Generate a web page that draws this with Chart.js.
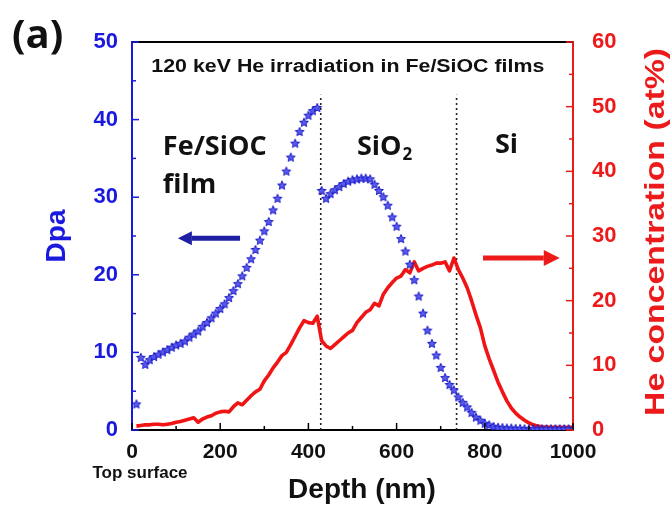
<!DOCTYPE html>
<html>
<head>
<meta charset="utf-8">
<title>120 keV He irradiation in Fe/SiOC films</title>
<script src="https://cdn.jsdelivr.net/npm/chart.js@4/dist/chart.umd.min.js"></script>
<style>
  html, body { margin: 0; padding: 0; background: #fff; }
  canvas { display: block; }
</style>
</head>
<body>
<canvas id="profile" width="672" height="510"></canvas>
<script>
(function () {
  'use strict';

  const Chart = window.Chart;

  // Depth of each sample (nm)
  const depthNm = [
    10, 20, 30, 40, 50, 60, 70, 80, 90, 100,
    110, 120, 130, 140, 150, 160, 170, 180, 190, 200,
    210, 220, 230, 240, 250, 260, 270, 280, 290, 300,
    310, 320, 330, 340, 350, 360, 370, 380, 390, 400,
    410, 420, 430, 440, 450, 460, 470, 480, 490, 500,
    510, 520, 530, 540, 550, 560, 570, 580, 590, 600,
    610, 620, 630, 640, 650, 660, 670, 680, 690, 700,
    710, 720, 730, 740, 750, 760, 770, 780, 790, 800,
    810, 820, 830, 840, 850, 860, 870, 880, 890, 900,
    910, 920, 930, 940, 950, 960, 970, 980, 990, 1000
  ];

  // Displacement damage (dpa), left axis
  const dpaValues = [
    3.3, 9.3, 8.4, 9.0, 9.4, 9.7, 10.0, 10.3, 10.6, 10.9,
    11.1, 11.4, 11.9, 12.3, 12.7, 13.3, 13.8, 14.4, 15.0, 15.6,
    16.2, 17.0, 17.9, 18.8, 19.8, 20.9, 22.0, 23.2, 24.4, 25.6,
    26.8, 28.3, 29.8, 31.5, 33.3, 35.1, 36.9, 38.4, 39.6, 40.5,
    41.1, 41.5, 30.8, 29.8, 30.4, 30.9, 31.3, 31.7, 32.0, 32.2,
    32.3, 32.4, 32.4, 32.3, 31.6, 30.8, 30.0, 28.9, 27.4, 26.2,
    24.6, 23.0, 21.3, 19.3, 17.2, 15.0, 12.8, 11.1, 9.6, 8.0,
    6.7, 5.8, 5.1, 4.2, 3.5, 2.9, 2.2, 1.6, 1.2, 0.8,
    0.6, 0.4, 0.3, 0.25, 0.2, 0.2, 0.15, 0.15, 0.1, 0.1,
    0.1, 0.1, 0.1, 0.1, 0.1, 0.1, 0.1, 0.1, 0.1, 0.1
  ];

  // He concentration (at%), right axis
  const heConcentration = [
    0.6, 0.7, 0.8, 0.8, 0.9, 0.9, 0.8, 0.9, 1.0, 1.2,
    1.3, 1.5, 1.7, 1.9, 1.2, 1.7, 2.0, 2.2, 2.6, 2.8,
    2.9, 2.8, 3.6, 4.2, 3.9, 4.6, 5.3, 5.9, 6.3, 7.6,
    8.5, 9.6, 10.5, 11.5, 12.0, 13.2, 14.5, 15.8, 16.9, 16.6,
    16.5, 17.6, 13.8, 13.0, 12.6, 13.2, 13.8, 14.4, 15.0, 15.4,
    16.6, 17.4, 18.2, 18.6, 19.6, 19.2, 21.0, 22.0, 22.8, 23.5,
    23.8, 24.8, 24.3, 26.0, 24.6, 25.0, 25.3, 25.5, 25.8, 25.8,
    26.0, 24.6, 26.6, 24.8, 23.5, 22.0, 20.0, 17.8, 15.8, 13.0,
    11.0, 9.2, 7.4, 5.9, 4.5, 3.4, 2.6, 2.0, 1.5, 1.1,
    0.8, 0.6, 0.5, 0.45, 0.4, 0.4, 0.4, 0.4, 0.4, 0.4
  ];

  // Layer interfaces (nm): Fe/SiOC | SiO2 | Si
  const interfacesNm = [428, 736];
  const interfaceTopDpa = 43.2;

  const xTicks = { min: 0, max: 1000, step: 200, minor: 100 };
  const dpaTicks = { min: 0, max: 50, step: 10, minor: 5 };
  const heTicks = { min: 0, max: 60, step: 10, minor: 5 };

  const BLUE = '#1a1adf';
  const NAVY = '#1f1fa3';
  const RED = '#ec1a1a';
  const ARIAL = '"Liberation Sans", Arial, sans-serif';
  const SANS = '"Open Sans", "Noto Sans", sans-serif';


  // Small filled five-point star used as the dpa marker
  function makeStar(r, fill, stroke) {
    const size = Math.ceil(r * 2 + 2);
    const c = document.createElement('canvas');
    c.width = size;
    c.height = size;
    const g = c.getContext('2d');
    g.beginPath();
    for (let i = 0; i < 10; i++) {
      const rad = i % 2 ? r * 0.45 : r;
      const a = -Math.PI / 2 + i * Math.PI / 5;
      g.lineTo(size / 2 + rad * Math.cos(a), size / 2 + rad * Math.sin(a));
    }
    g.closePath();
    g.fillStyle = fill;
    g.fill();
    g.strokeStyle = stroke;
    g.lineWidth = 1;
    g.stroke();
    return c;
  }

  function points(xs, ys) {
    return xs.map((x, i) => ({ x, y: ys[i] }));
  }

  function drawText(ctx, str, x, y, font, color, align) {
    ctx.font = font;
    ctx.fillStyle = color;
    ctx.textAlign = align || 'left';
    ctx.textBaseline = 'alphabetic';
    ctx.fillText(str, x, y);
  }

  // Text squeezed or stretched along its run to a given length
  function drawFitted(ctx, str, x, y, length, rotation, font, color) {
    ctx.save();
    ctx.font = font;
    const w = ctx.measureText(str).width;
    ctx.translate(x, y);
    ctx.rotate(rotation);
    ctx.scale(length / w, 1);
    drawText(ctx, str, 0, 0, font, color, 'center');
    ctx.restore();
  }

  function drawArrow(ctx, x0, x1, y, color, width, head, half) {
    const dir = Math.sign(x1 - x0);
    ctx.strokeStyle = color;
    ctx.fillStyle = color;
    ctx.lineWidth = width;
    ctx.beginPath();
    ctx.moveTo(x0, y);
    ctx.lineTo(x1 - dir * head, y);
    ctx.stroke();
    ctx.beginPath();
    ctx.moveTo(x1, y);
    ctx.lineTo(x1 - dir * head, y - half);
    ctx.lineTo(x1 - dir * head, y + half);
    ctx.closePath();
    ctx.fill();
  }

  // Inward tick marks, top frame line, axis titles and layer labels
  const decorations = {
    id: 'decorations',
    afterDraw(chart) {
      const { ctx, chartArea: area, scales } = chart;
      const { x, y, y1 } = scales;
      ctx.save();

      ctx.strokeStyle = '#000';
      ctx.lineWidth = 2;
      ctx.beginPath();
      ctx.moveTo(area.left, area.top);
      ctx.lineTo(area.right, area.top);
      ctx.stroke();

      ctx.lineWidth = 1.5;
      ctx.strokeStyle = '#000';
      for (let v = xTicks.min; v <= xTicks.max; v += xTicks.minor) {
        const px = x.getPixelForValue(v);
        const len = v % xTicks.step === 0 ? 7 : 4;
        ctx.beginPath();
        ctx.moveTo(px, area.bottom);
        ctx.lineTo(px, area.bottom - len);
        ctx.stroke();
      }
      ctx.strokeStyle = BLUE;
      for (let v = dpaTicks.min; v <= dpaTicks.max; v += dpaTicks.minor) {
        const py = y.getPixelForValue(v);
        const len = v % dpaTicks.step === 0 ? 7 : 4;
        ctx.beginPath();
        ctx.moveTo(area.left, py);
        ctx.lineTo(area.left + len, py);
        ctx.stroke();
      }
      ctx.strokeStyle = RED;
      for (let v = heTicks.min; v <= heTicks.max; v += heTicks.minor) {
        const py = y1.getPixelForValue(v);
        const len = v % heTicks.step === 0 ? 7 : 4;
        ctx.beginPath();
        ctx.moveTo(area.right, py);
        ctx.lineTo(area.right - len, py);
        ctx.stroke();
      }

      // panel letter and header
      drawText(ctx, '(a)', 12, 48, '700 40px ' + SANS, '#111');
      ctx.save();
      ctx.translate(x.getPixelForValue(45), 72);
      drawFitted(ctx, '120 keV He irradiation in Fe/SiOC films', 196, 0, 393, 0, 'bold 18px ' + ARIAL, '#111');
      ctx.restore();

      // axis titles
      drawText(ctx, 'Depth (nm)', 362, 498, 'bold 28px ' + ARIAL, '#111', 'center');
      drawText(ctx, 'Top surface', 140, 478, 'bold 17px ' + ARIAL, '#111', 'center');
      ctx.save();
      ctx.translate(65, (area.top + area.bottom) / 2);
      ctx.rotate(-Math.PI / 2);
      drawText(ctx, 'Dpa', 0, 0, 'bold 28px ' + ARIAL, BLUE, 'center');
      ctx.restore();
      drawFitted(ctx, 'He concentration (at%)', 664, 232, 368, -Math.PI / 2, 'bold 27px ' + ARIAL, RED);

      // layer labels
      const layerFont = '700 27px ' + SANS;
      drawText(ctx, 'Fe/SiOC', x.getPixelForValue(70), y.getPixelForValue(35.4), layerFont, '#111');
      drawText(ctx, 'film', x.getPixelForValue(70), y.getPixelForValue(30.5), layerFont, '#111');
      const sx = x.getPixelForValue(510);
      const sy = y.getPixelForValue(35.4);
      drawText(ctx, 'SiO', sx, sy, layerFont, '#111');
      ctx.font = layerFont;
      const sw = ctx.measureText('SiO').width;
      drawText(ctx, '2', sx + sw + 1, sy + 5, '700 17px ' + SANS, '#111');
      drawText(ctx, 'Si', x.getPixelForValue(823), y.getPixelForValue(35.7), layerFont, '#111');

      // arrows pointing to each axis
      drawArrow(ctx, x.getPixelForValue(245), x.getPixelForValue(104), y.getPixelForValue(24.7), NAVY, 5, 14, 7);
      drawArrow(ctx, x.getPixelForValue(796), x.getPixelForValue(970), y1.getPixelForValue(26.6), RED, 5, 16, 8);

      ctx.restore();
    }
  };

  function axisFont(size) {
    return { family: ARIAL, size, weight: 'bold' };
  }

  function plainNumber(value) {
    return String(value);
  }

  window.onload = function () {
    const ctx = document.getElementById('profile').getContext('2d');
    const star = makeStar(4.6, '#5a5aee', '#1c1cc8');

    const interfaceSets = interfacesNm.map((d) => ({
      label: 'interface ' + d,
      data: [{ x: d, y: 0 }, { x: d, y: interfaceTopDpa }],
      yAxisID: 'y',
      borderColor: '#222',
      borderWidth: 1.6,
      borderDash: [2, 3],
      pointRadius: 0
    }));

    window.profileChart = new Chart(ctx, {
      type: 'line',
      data: {
        datasets: [
          {
            label: 'Dpa',
            data: points(depthNm, dpaValues),
            yAxisID: 'y',
            showLine: false,
            pointStyle: star,
            pointRadius: 4.6,
            borderColor: BLUE,
            backgroundColor: BLUE
          },
          {
            label: 'He concentration (at%)',
            data: points(depthNm, heConcentration),
            yAxisID: 'y1',
            borderColor: '#f01414',
            borderWidth: 3.6,
            borderJoinStyle: 'round',
            pointRadius: 0,
            tension: 0
          }
        ].concat(interfaceSets)
      },
      options: {
        responsive: false,
        animation: false,
        layout: { padding: { top: 42, left: 0, right: 0, bottom: 0 } },
        plugins: {
          legend: { display: false },
          tooltip: { enabled: false }
        },
        scales: {
          x: {
            type: 'linear',
            min: xTicks.min,
            max: xTicks.max,
            ticks: { stepSize: xTicks.step, color: '#111', font: axisFont(21), padding: 10, maxRotation: 0, callback: plainNumber },
            grid: { display: false, drawTicks: false },
            border: { color: '#000', width: 2 },
            afterFit(scale) { scale.height = 80; }
          },
          y: {
            position: 'left',
            min: dpaTicks.min,
            max: dpaTicks.max,
            ticks: { stepSize: dpaTicks.step, color: BLUE, font: axisFont(22), padding: 14, callback: plainNumber },
            grid: { display: false, drawTicks: false },
            border: { color: BLUE, width: 2 },
            afterFit(scale) { scale.width = 132; }
          },
          y1: {
            position: 'right',
            min: heTicks.min,
            max: heTicks.max,
            ticks: { stepSize: heTicks.step, color: RED, font: axisFont(22), padding: 19, callback: plainNumber },
            grid: { display: false, drawTicks: false },
            border: { color: RED, width: 2 },
            afterFit(scale) { scale.width = 99; }
          }
        }
      },
      plugins: [decorations]
    });
  };

})();
</script>
</body>
</html>
